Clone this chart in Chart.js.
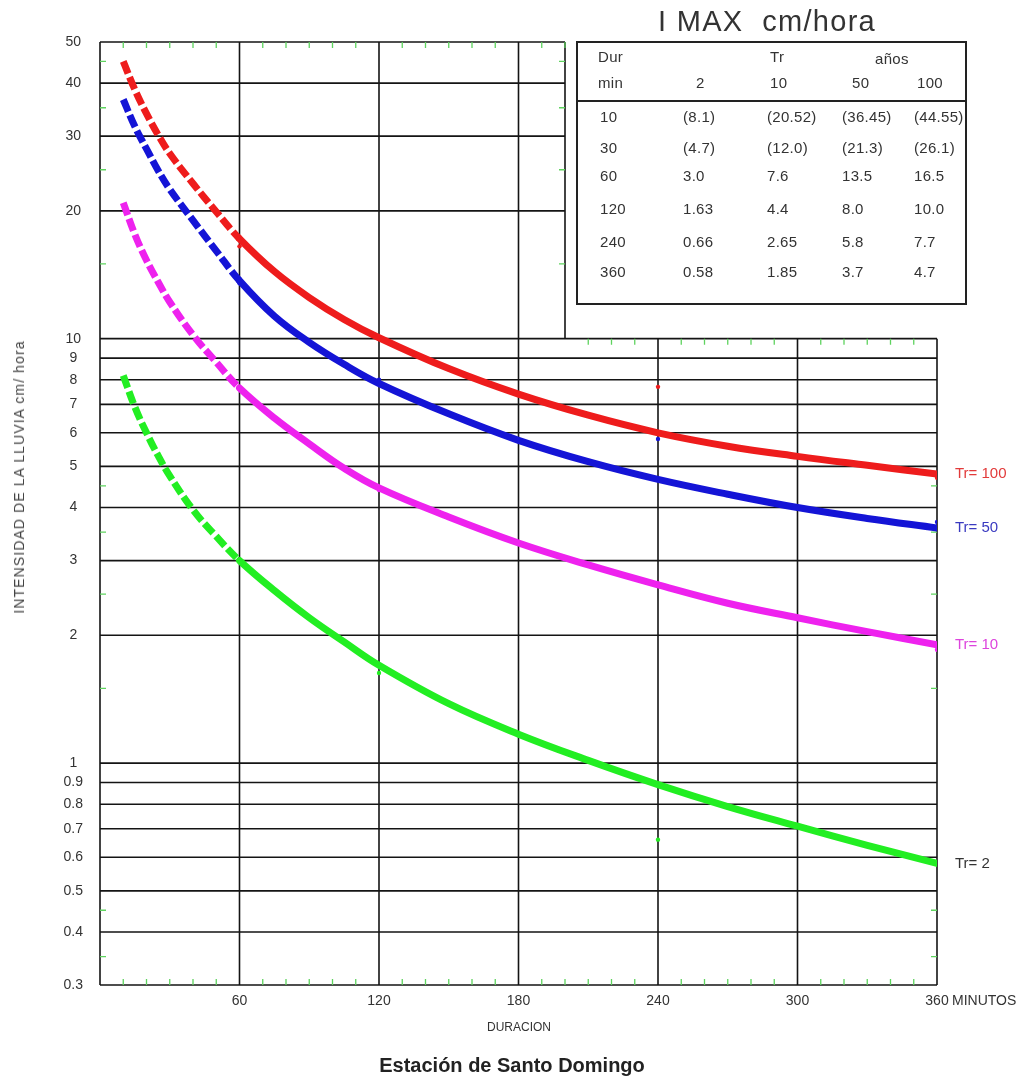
<!DOCTYPE html>
<html lang="es">
<head>
<meta charset="UTF-8">
<title>Curvas IDF - Estación de Santo Domingo</title>
<script src="https://cdn.jsdelivr.net/npm/chart.js"></script>
<style>
  body { margin: 0; background: #fff; font-family: Arial, 'Liberation Sans', sans-serif; color: #333; }
  #wrap { position: relative; width: 1030px; height: 1080px; overflow: hidden; }
  #chart { position: absolute; left: 0; top: 0; }
  .txt { position: absolute; white-space: pre; color: #333; }
  #title { left: 658px; top: 7px; font-size: 29px; line-height: 29px; letter-spacing: 1.3px; }
  #ylabel { left: 19px; top: 477px; font-size: 14px; line-height: 14px; letter-spacing: 1.1px;
            transform: translate(-50%, -50%) rotate(-90deg); color: #444; }
  #minutos { left: 952px; top: 993px; font-size: 14px; line-height: 14px; }
  #duracion { left: 519px; top: 1021px; font-size: 12px; line-height: 12px; transform: translateX(-50%); }
  #estacion { left: 512px; top: 1055px; font-size: 20px; line-height: 20px; font-weight: bold; color: #222;
              transform: translateX(-50%); }
  #tabla { position: absolute; left: 576px; top: 41px; width: 387px; height: 260px;
           border: 2px solid #222; background: #fff; }
  #sep { position: absolute; left: 0; right: 0; top: 57px; border-top: 2px solid #222; }
  .cell { position: absolute; font-size: 15px; line-height: 15px; letter-spacing: 0.3px; white-space: nowrap; color: #333; }
</style>
</head>
<body>
<div id="wrap">
  <canvas id="chart" width="1030" height="1080"></canvas>
  <div class="txt" id="title">I MAX  cm/hora</div>
  <div class="txt" id="ylabel">INTENSIDAD DE LA LLUVIA cm/ hora</div>
  <div class="txt" id="minutos">MINUTOS</div>
  <div class="txt" id="duracion">DURACION</div>
  <div class="txt" id="estacion">Estación de Santo Domingo</div>
  <div id="tabla"><div id="sep"></div></div>
</div>

<script>
  // curve values (cm/hora) at each duration (min)
  const durCurve = [10, 15, 20, 25, 30, 40, 50, 60, 75, 90, 105, 120, 150, 180, 210, 240, 270, 300, 330, 360];
  const tr100 = [45, 38.6, 33.9, 30.2, 27.3, 23.2, 19.9, 17.2, 14.4, 12.5, 11.1, 10.05, 8.5, 7.4, 6.6, 6.0, 5.58, 5.28, 5.03, 4.8];
  const tr50  = [36.6, 31.6, 28.0, 24.9, 22.5, 19.0, 16.1, 13.7, 11.3, 9.8, 8.7, 7.84, 6.65, 5.76, 5.13, 4.66, 4.3, 4.0, 3.77, 3.58];
  const tr10  = [20.9, 17.6, 15.3, 13.6, 12.2, 10.2, 8.8, 7.65, 6.5, 5.65, 4.95, 4.45, 3.8, 3.3, 2.93, 2.63, 2.38, 2.2, 2.04, 1.9];
  const tr2   = [8.19, 6.9, 6.0, 5.3, 4.75, 3.95, 3.42, 3.0, 2.55, 2.2, 1.93, 1.7, 1.38, 1.17, 1.015, 0.89, 0.79, 0.71, 0.64, 0.58];

  // I MAX table (first two rows are extrapolated, shown in brackets)
  const tblDur   = ['10', '30', '60', '120', '240', '360'];
  const tblTr2   = ['8.1', '4.7', '3.0', '1.63', '0.66', '0.58'];
  const tblTr10  = ['20.52', '12.0', '7.6', '4.4', '2.65', '1.85'];
  const tblTr50  = ['36.45', '21.3', '13.5', '8.0', '5.8', '3.7'];
  const tblTr100 = ['44.55', '26.1', '16.5', '10.0', '7.7', '4.7'];

  const seriesNames = ['Tr= 100', 'Tr= 50', 'Tr= 10', 'Tr= 2'];
  const seriesColors = ['#ee1c1c', '#1414d6', '#ee22ee', '#22ee22'];
  const labelColors = ['#e23a3a', '#3a3ac0', '#dd44dd', '#333333'];

  const yGridVals = [50, 40, 30, 20, 10, 9, 8, 7, 6, 5, 4, 3, 2, 1, 0.9, 0.8, 0.7, 0.6, 0.5, 0.4, 0.3];
  const yMinorVals = [45, 35, 25, 15, 4.5, 3.5, 2.5, 1.5, 0.45, 0.35];
  const xGridVals = [0, 60, 120, 180, 240, 300, 360];
  const xTickVals = [60, 120, 180, 240, 300, 360];
  const upperEdge = 200;   // upper part of the paper stops at 200 min
  const splitValue = 10;   // ... above 10 cm/hora

  // build the table
  const tabla = document.getElementById('tabla');
  const colX = [22, 105, 189, 264, 336];
  const rowY = [66, 97, 125, 158, 191, 221];
  function addCell(text, x, y) {
    const d = document.createElement('div');
    d.className = 'cell';
    d.style.left = x + 'px';
    d.style.top = y + 'px';
    d.textContent = text;
    tabla.appendChild(d);
  }
  addCell('Dur', 20, 6); addCell('Tr', 192, 6); addCell('años', 297, 8);
  addCell('min', 20, 32); addCell('2', 118, 32); addCell('10', 192, 32); addCell('50', 274, 32); addCell('100', 339, 32);
  const tblCols = [tblDur, tblTr2, tblTr10, tblTr50, tblTr100];
  tblCols.forEach((col, c) => {
    col.forEach((v, r) => {
      const txt = (c > 0 && r < 2) ? '(' + v + ')' : v;
      addCell(txt, colX[c], rowY[r]);
    });
  });

  const curveSets = [tr100, tr50, tr10, tr2];
  const tableSets = [tblTr100, tblTr50, tblTr10, tblTr2];

  const datasets = [];
  curveSets.forEach((vals, i) => {
    datasets.push({
      label: seriesNames[i],
      data: durCurve.map((d, k) => ({ x: d, y: vals[k] })),
      borderColor: seriesColors[i],
      borderWidth: 7,
      pointRadius: 0,
      tension: 0.4,
      borderCapStyle: 'round',
      segment: {
        borderDash: ctx => ctx.p1.parsed.x <= 60 ? [13, 4] : undefined,
        borderCapStyle: ctx => ctx.p1.parsed.x <= 60 ? 'butt' : 'round'
      },
      order: 1
    });
  });
  // measured table points (rows 60..360)
  tableSets.forEach((vals, i) => {
    datasets.push({
      label: seriesNames[i] + ' tabla',
      data: tblDur.slice(2).map((d, k) => ({ x: Number(d), y: Number(vals[k + 2]) })),
      showLine: false,
      pointRadius: 2.2,
      pointBorderWidth: 0,
      pointBackgroundColor: seriesColors[i],
      order: 2
    });
  });

  const paperPlugin = {
    id: 'paper',
    beforeDatasetsDraw(chart) {
      const { ctx, scales: { x, y } } = chart;
      const px = v => x.getPixelForValue(v);
      const py = v => y.getPixelForValue(v);
      ctx.save();
      ctx.strokeStyle = '#141414';
      ctx.lineWidth = 1.6;
      ctx.beginPath();
      yGridVals.forEach(v => {
        const xEnd = v > splitValue ? upperEdge : 360;
        ctx.moveTo(px(0), py(v));
        ctx.lineTo(px(xEnd), py(v));
      });
      xGridVals.forEach(v => {
        const yTop = v <= upperEdge ? 50 : splitValue;
        ctx.moveTo(px(v), py(yTop));
        ctx.lineTo(px(v), py(0.3));
      });
      ctx.moveTo(px(upperEdge), py(50));
      ctx.lineTo(px(upperEdge), py(splitValue));
      ctx.stroke();

      // little green minor ticks
      ctx.strokeStyle = '#5fd35f';
      ctx.lineWidth = 1.3;
      ctx.beginPath();
      for (let t = 10; t < 360; t += 10) {
        if (t % 60 === 0) continue;
        const xp = px(t);
        ctx.moveTo(xp, py(0.3));
        ctx.lineTo(xp, py(0.3) - 6);
        const top = t <= upperEdge ? py(50) : py(splitValue);
        ctx.moveTo(xp, top);
        ctx.lineTo(xp, top + 6);
      }
      yMinorVals.forEach(v => {
        const yp = py(v);
        ctx.moveTo(px(0), yp);
        ctx.lineTo(px(0) + 6, yp);
        const xr = px(v > splitValue ? upperEdge : 360);
        ctx.moveTo(xr, yp);
        ctx.lineTo(xr - 6, yp);
      });
      ctx.stroke();
      ctx.restore();
    },
    afterDatasetsDraw(chart) {
      const { ctx, scales: { x, y } } = chart;
      ctx.save();
      ctx.font = '15px Arial, "Liberation Sans", sans-serif';
      ctx.textBaseline = 'middle';
      ctx.textAlign = 'left';
      curveSets.forEach((vals, i) => {
        ctx.fillStyle = labelColors[i];
        ctx.fillText(seriesNames[i], x.getPixelForValue(durCurve[durCurve.length - 1]) + 18,
                     y.getPixelForValue(vals[vals.length - 1]));
      });
      ctx.restore();
    }
  };

  new Chart(document.getElementById('chart'), {
    type: 'line',
    data: { datasets: datasets },
    options: {
      responsive: false,
      animation: false,
      layout: { padding: { left: 0, top: 42, right: 93, bottom: 0 } },
      plugins: { legend: { display: false }, tooltip: { enabled: false } },
      scales: {
        x: {
          type: 'linear',
          min: 0,
          max: 360,
          afterFit: s => { s.height = 95; },
          afterBuildTicks: s => { s.ticks = xTickVals.map(v => ({ value: v })); },
          grid: { display: false, drawTicks: false },
          border: { display: false },
          ticks: {
            autoSkip: false,
            maxRotation: 0,
            padding: 8,
            color: '#333',
            font: { family: 'Arial', size: 14 },
            callback: v => String(v)
          }
        },
        y: {
          type: 'logarithmic',
          min: 0.3,
          max: 50,
          afterFit: s => { s.width = 100; },
          afterBuildTicks: s => { s.ticks = yGridVals.map(v => ({ value: v })); },
          grid: { display: false, drawTicks: false },
          border: { display: false },
          ticks: {
            autoSkip: false,
            crossAlign: 'center',
            padding: 17,
            color: '#333',
            font: { family: 'Arial', size: 14 },
            callback: v => String(v)
          }
        }
      }
    },
    plugins: [paperPlugin]
  });
</script>
</body>
</html>
